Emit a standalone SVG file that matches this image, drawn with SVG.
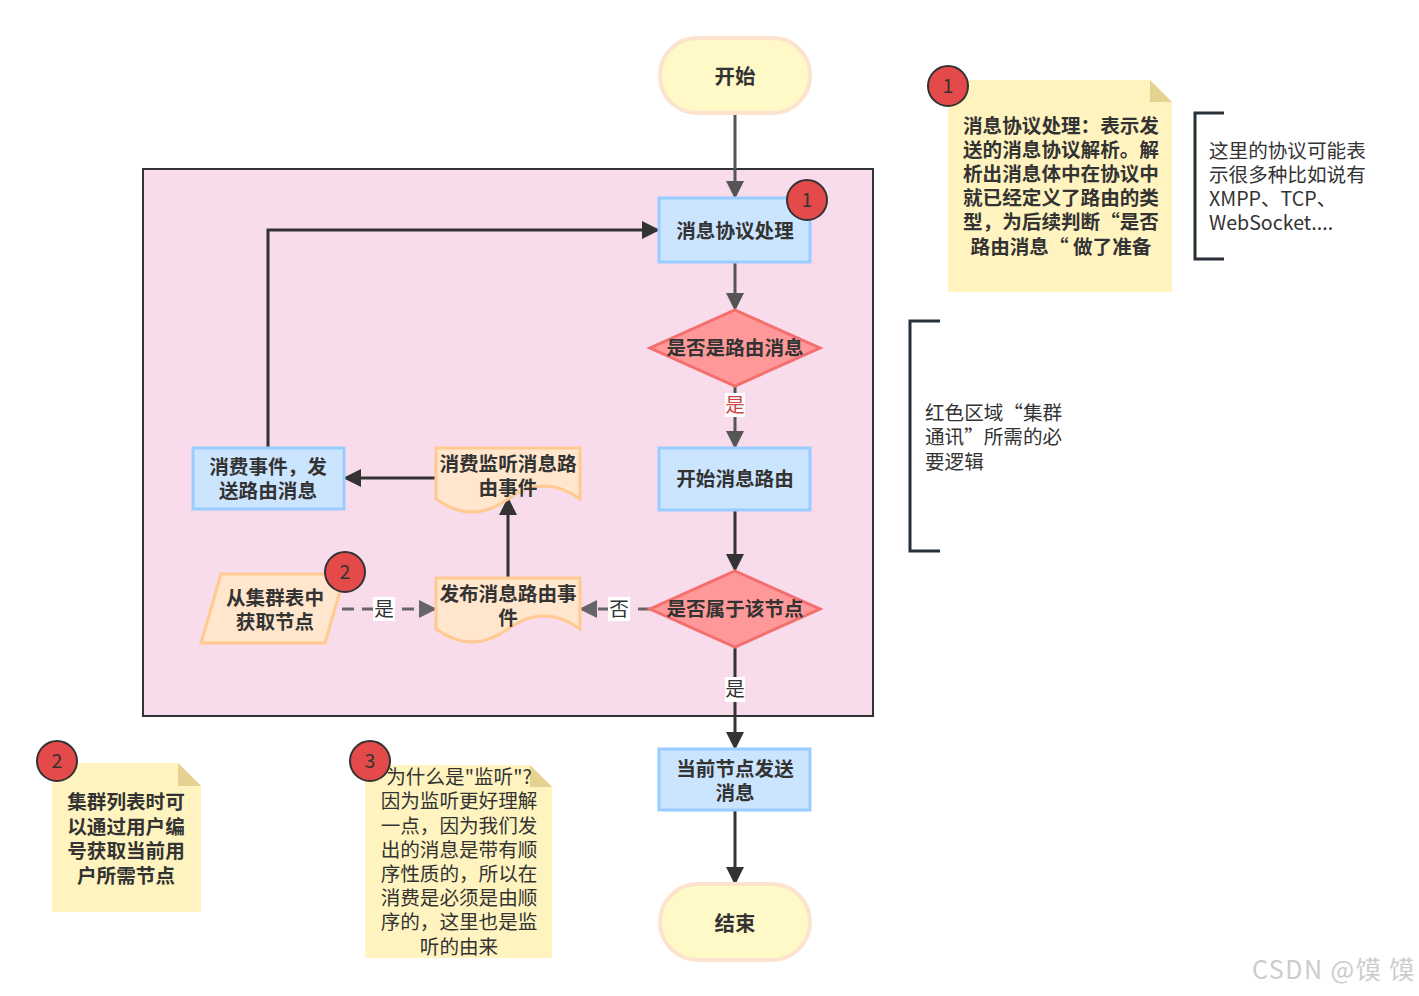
<svg xmlns="http://www.w3.org/2000/svg" width="1419" height="996" viewBox="0 0 1419 996">
<defs>
<style>
text{font-family:"Noto Sans CJK SC","Liberation Sans",sans-serif;fill:#333}
.b{font-weight:bold;font-size:19.6px;text-anchor:middle}
.n{font-size:19.6px}
.pill{fill:#fff9c8;stroke:#fde3cd;stroke-width:4}
.rect{fill:#cce5ff;stroke:#99ccff;stroke-width:3}
.dia{fill:#ff9999;stroke:#f46e6e;stroke-width:3}
.doc{fill:#ffe6cc;stroke:#ffc98f;stroke-width:3}
.note{fill:#fff4bf}
.fold{fill:#e5d190}
.badge{fill:#e54a4a;stroke:#333;stroke-width:2}
.bt{font-size:19.6px;text-anchor:middle;fill:#333}
.ln{fill:none;stroke:#555;stroke-width:3}
.ln2{fill:none;stroke:#333;stroke-width:3}
.dash{fill:none;stroke:#666;stroke-width:3;stroke-dasharray:12 8}
.brk{fill:none;stroke:#273038;stroke-width:3}
.lbl{fill:#fff}
</style>
<marker id="a1" markerWidth="6" markerHeight="6" refX="5" refY="3" orient="auto" markerUnits="strokeWidth"><path d="M0,0 L6,3 L0,6 Z" fill="#555"/></marker>
<marker id="a2" markerWidth="6" markerHeight="6" refX="5" refY="3" orient="auto" markerUnits="strokeWidth"><path d="M0,0 L6,3 L0,6 Z" fill="#333"/></marker>
<marker id="a3" markerWidth="6" markerHeight="6" refX="5" refY="3" orient="auto" markerUnits="strokeWidth"><path d="M0,0 L6,3 L0,6 Z" fill="#666"/></marker>
</defs>
<rect width="1419" height="996" fill="#fff"/>

<g id="cluster">
<rect x="143" y="169" width="730" height="547" fill="#f8dcec" stroke="#333" stroke-width="2"/>
</g>

<g id="connectors">
<path class="ln" d="M735,113 V196" marker-end="url(#a1)"/>
<path class="ln" d="M735,262 V308" marker-end="url(#a1)"/>
<path class="ln" d="M735,386 V446" marker-end="url(#a1)"/>
<rect class="lbl" x="725" y="393" width="20" height="24"/>
<text x="735" y="412" class="bt" style="fill:#c44">是</text>
<path class="ln2" d="M735,510 V569" marker-end="url(#a2)"/>
<path class="dash" d="M650,609 H582" marker-end="url(#a3)"/>
<rect class="lbl" x="608" y="597" width="22" height="24"/>
<text x="619" y="616" class="bt">否</text>
<path class="ln2" d="M735,647 V747" marker-end="url(#a2)"/>
<rect class="lbl" x="725" y="677" width="20" height="25"/>
<text x="735" y="696" class="bt">是</text>
<path class="ln2" d="M735,810 V882" marker-end="url(#a2)"/>
<path class="ln2" d="M508,578 V500" marker-end="url(#a2)"/>
<path class="ln2" d="M436,478 H346" marker-end="url(#a2)"/>
<path class="ln2" d="M268,448 V230 H657" marker-end="url(#a2)"/>
<path class="dash" d="M342,609 H434" marker-end="url(#a3)"/>
<rect class="lbl" x="373" y="597" width="22" height="24"/>
<text x="384" y="616" class="bt">是</text>
</g>

<g id="start">
<rect class="pill" x="660" y="38" width="150" height="75" rx="37"/>
<text x="735" y="84" class="b" style="font-size:20.5px">开始</text>
</g>

<g id="proto">
<rect class="rect" x="659" y="198" width="151" height="64"/>
<text x="735" y="238" class="b">消息协议处理</text>
</g>
<g id="badge1a">
<circle class="badge" cx="807" cy="200" r="20"/>
<text x="807" y="207" class="bt">1</text>
</g>

<g id="isroute">
<path class="dia" d="M735,310 L820,348 L735,386 L650,348 Z"/>
<text x="735" y="355" class="b">是否是路由消息</text>
</g>

<g id="startroute">
<rect class="rect" x="659" y="448" width="151" height="62"/>
<text x="735" y="486" class="b">开始消息路由</text>
</g>

<g id="isnode">
<path class="dia" d="M735,571 L820,609 L735,647 L650,609 Z"/>
<text x="735" y="616" class="b">是否属于该节点</text>
</g>

<g id="publish">
<path class="doc" d="M436,578 H580 V629 Q544,603 508,629 Q472,655 436,629 Z"/>
<text class="b"><tspan x="508" y="601">发布消息路由事</tspan><tspan x="508" y="625">件</tspan></text>
</g>

<g id="listen">
<path class="doc" d="M436,448 H580 V499 Q544,473 508,499 Q472,525 436,499 Z"/>
<text class="b"><tspan x="508" y="471">消费监听消息路</tspan><tspan x="508" y="495">由事件</tspan></text>
</g>

<g id="consume">
<rect class="rect" x="193" y="448" width="151" height="61"/>
<text class="b"><tspan x="268" y="474">消费事件，发</tspan><tspan x="268" y="498">送路由消息</tspan></text>
</g>

<g id="fetch">
<path d="M221,574 H345 L325,643 H201 Z" fill="#ffe6cc" stroke="#ffc98f" stroke-width="3"/>
<text class="b"><tspan x="275" y="605">从集群表中</tspan><tspan x="275" y="629">获取节点</tspan></text>
</g>
<g id="badge2a">
<circle class="badge" cx="345" cy="572" r="20"/>
<text x="345" y="579" class="bt">2</text>
</g>

<g id="send">
<rect class="rect" x="659" y="749" width="151" height="61"/>
<text class="b"><tspan x="735" y="776">当前节点发送</tspan><tspan x="735" y="800">消息</tspan></text>
</g>

<g id="end">
<rect class="pill" x="660" y="884" width="150" height="76" rx="38"/>
<text x="735" y="931" class="b" style="font-size:20.5px">结束</text>
</g>

<g id="note1">
<path class="note" d="M948,80 H1150 L1172,102 V292 H948 Z"/>
<path class="fold" d="M1150,80 L1172,102 H1150 Z"/>
<text class="b"><tspan x="1061" y="133">消息协议处理：表示发</tspan><tspan x="1061" y="157">送的消息协议解析。解</tspan><tspan x="1061" y="181">析出消息体中在协议中</tspan><tspan x="1061" y="205">就已经定义了路由的类</tspan><tspan x="1061" y="229">型，为后续判断“是否</tspan><tspan x="1061" y="254">路由消息“ 做了准备</tspan></text>
<circle class="badge" cx="948" cy="86" r="20"/>
<text x="948" y="93" class="bt">1</text>
</g>

<g id="bracket1">
<path class="brk" d="M1224,113 H1195 V259 H1224"/>
<text class="n"><tspan x="1209" y="158">这里的协议可能表</tspan><tspan x="1209" y="182">示很多种比如说有</tspan><tspan x="1209" y="206">XMPP、TCP、</tspan><tspan x="1209" y="230">WebSocket....</tspan></text>
</g>

<g id="bracket2">
<path class="brk" d="M940,321 H910 V551 H940"/>
<text class="n"><tspan x="925" y="420">红色区域“集群</tspan><tspan x="925" y="444">通讯”所需的必</tspan><tspan x="925" y="469">要逻辑</tspan></text>
</g>

<g id="note2">
<path class="note" d="M52,763 H178 L201,786 V912 H52 Z"/>
<path class="fold" d="M178,763 L201,786 H178 Z"/>
<text class="b"><tspan x="126" y="809">集群列表时可</tspan><tspan x="126" y="834">以通过用户编</tspan><tspan x="126" y="858">号获取当前用</tspan><tspan x="126" y="883">户所需节点</tspan></text>
<circle class="badge" cx="57" cy="761" r="20"/>
<text x="57" y="768" class="bt">2</text>
</g>

<g id="note3">
<path class="note" d="M365,765 H530 L552,787 V958 H365 Z"/>
<path class="fold" d="M530,765 L552,787 H530 Z"/>
<text class="bt"><tspan x="459" y="784">为什么是"监听"?</tspan><tspan x="459" y="808">因为监听更好理解</tspan><tspan x="459" y="833">一点，因为我们发</tspan><tspan x="459" y="857">出的消息是带有顺</tspan><tspan x="459" y="881">序性质的，所以在</tspan><tspan x="459" y="905">消费是必须是由顺</tspan><tspan x="459" y="929">序的，这里也是监</tspan><tspan x="459" y="954">听的由来</tspan></text>
<circle class="badge" cx="370" cy="761" r="20"/>
<text x="370" y="768" class="bt">3</text>
</g>

<g id="watermark">
<text x="1252" y="979" style="font-size:25px;fill:#ccc;letter-spacing:1.5px">CSDN @馍 馍</text>
</g>
</svg>
